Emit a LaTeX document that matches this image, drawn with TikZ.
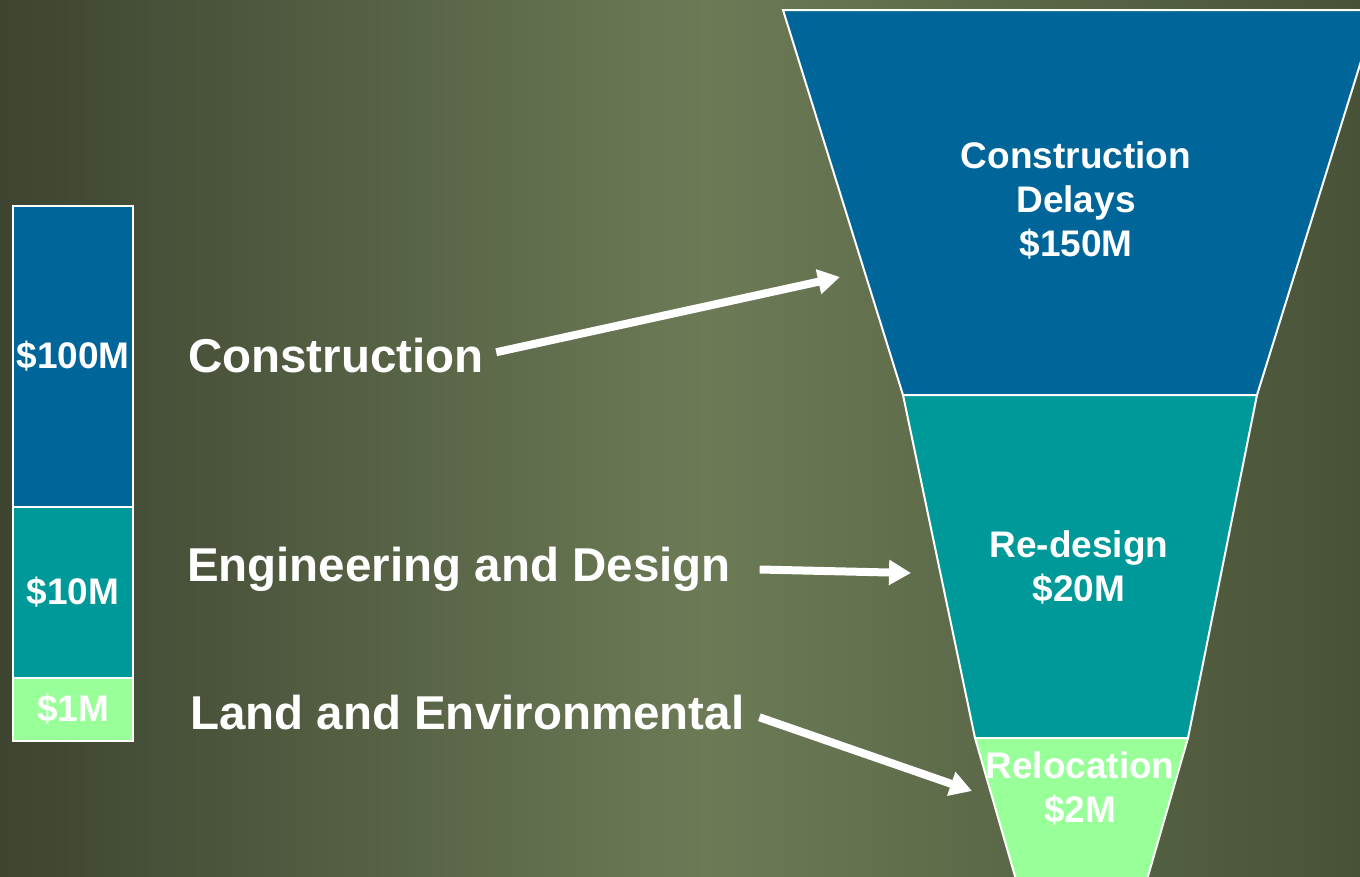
\documentclass[tikz,border=0pt]{standalone}
\usepackage{fontspec}
\setmainfont{Liberation Sans}
\usetikzlibrary{arrows.meta,positioning}
\definecolor{bgdark}{HTML}{3D4430}
\definecolor{bglight}{HTML}{6C7B56}
\definecolor{bgright}{HTML}{485237}
\definecolor{costblue}{HTML}{006699}
\definecolor{costteal}{HTML}{009999}
\definecolor{costgreen}{HTML}{99FF99}
\pgfdeclarehorizontalshading{bgshade}{100bp}{color(0bp)=(bgdark);
  color(25bp)=(bgdark); color(51bp)=(bglight); color(75bp)=(bgright);
  color(100bp)=(bgright)}
\tikzset{%
  >={Triangle[length=22pt,width=24pt]}, % big white arrow heads
  inner sep=0pt,%
  outer sep=0pt,%
  bar part/.style={draw=white,line width=2pt,minimum width=120pt,
    text=white,font=\fontsize{37}{44}\selectfont\bfseries},%
  funnel part/.style={draw=white,line width=2pt},%
  funnel text/.style={text=white,align=center,
    font=\fontsize{37}{44}\selectfont\bfseries},%
  phase label/.style={text=white,anchor=base west,
    font=\fontsize{47.5}{56}\selectfont\bfseries},%
  cost arrow/.style={->,draw=white,line width=8pt}%
}

\begin{document}
\begin{tikzpicture}[x=1pt,y=-1pt] % COST FUNNEL

\useasboundingbox (0,0) rectangle (1360,876);
\begin{scope}[yscale=-1]
  \shade[shading=bgshade] (0,0) rectangle (1360,-876);
\end{scope}
\clip (0,0) rectangle (1360,876);

% stacked bar
\node[bar part,fill=costblue,minimum height=301pt] (b100) at (73,356.5) {\$100M};
\node[bar part,fill=costteal,minimum height=171pt,below=0pt of b100] (b10) {\$10M};
\node[bar part,fill=costgreen,minimum height=63pt,below=0pt of b10] (b1) {\$1M};

% funnel
\draw[funnel part,fill=costblue] (783,10) -- (1377,10) -- (1257,395) -- (903,395) -- cycle;
\draw[funnel part,fill=costteal] (903,395) -- (1257,395) -- (1188,738) -- (975,738) -- cycle;
\draw[funnel part,fill=costgreen] (975,738) -- (1188,738) -- (1144,890) -- (1019,890) -- cycle;
\node[funnel text] (fdelay) at (1076,200) {Construction\\Delays\\\$150M};
\node[funnel text] (fredesign) at (1079,567) {Re-design\\\$20M};
\node[funnel text] (freloc) at (1080,788) {Relocation\\\$2M};

% phases
\node[phase label] (lblcon) at (188,372) {Construction};
\node[phase label] (lbleng) at (187,581) {Engineering and Design};
\node[phase label] (lblland) at (190,729) {Land and Environmental};

\coordinate (tipdelay) at (840,277);
\coordinate (tipredesign) at (911,573);
\coordinate (tipreloc) at (972,791);

\draw[cost arrow,shorten <=13pt] (lblcon.east) -- (tipdelay);
\draw[cost arrow,shorten <=29pt] (lbleng.east) -- (tipredesign);
\draw[cost arrow,shorten <=16pt] (lblland.east) -- (tipreloc);

\end{tikzpicture}
\end{document}
